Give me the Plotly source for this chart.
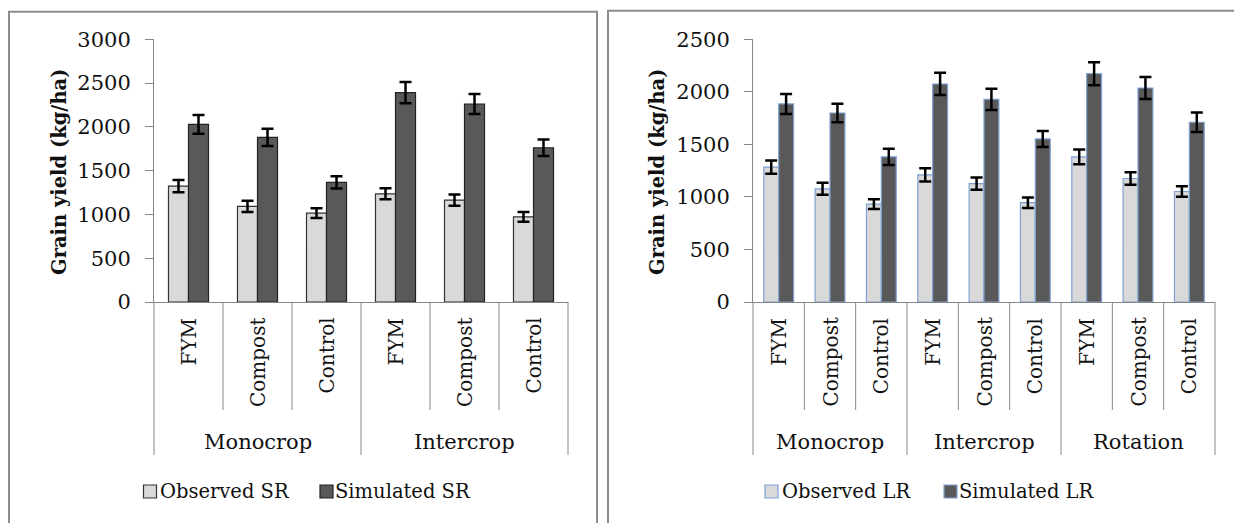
import plotly.graph_objects as go

# ---- data -------------------------------------------------------------
treatments = ["FYM", "Compost", "Control"]
systems_sr = ["Monocrop", "Intercrop"]
systems_lr = ["Monocrop", "Intercrop", "Rotation"]

# short rains (SR)
obs_sr = [1323, 1091, 1014, 1235, 1163, 972]
obs_sr_err = [69, 65, 55, 63, 63, 55]
sim_sr = [2028, 1880, 1365, 2390, 2260, 1761]
sim_sr_err = [107, 99, 70, 120, 115, 93]

# long rains (LR)
obs_lr = [1283, 1077, 931, 1210, 1127, 945, 1381, 1175, 1051]
obs_lr_err = [63, 57, 46, 63, 58, 50, 70, 59, 49]
sim_lr = [1884, 1798, 1381, 2074, 1928, 1551, 2172, 2036, 1710]
sim_lr_err = [95, 89, 77, 106, 101, 76, 109, 104, 92]

yticks_sr = [0, 500, 1000, 1500, 2000, 2500, 3000]
yticks_lr = [0, 500, 1000, 1500, 2000, 2500]

legend_sr = ["Observed SR", "Simulated SR"]
legend_lr = ["Observed LR", "Simulated LR"]
y_title = "Grain yield (kg/ha)"

# ---- styling ----------------------------------------------------------
W, H = 1234, 523
FONT = "DejaVu Serif"
TXT = "#111111"
LIGHT, DARK = "#D9D9D9", "#595959"
AXIS = "#868686"
FRAME = "#8c8c8c"
BLUE_EDGE = "#7EA1D3"


def px(x):
    return x / W


def py(y):
    return 1 - y / H


fig = go.Figure()

err_style = dict(type="data", visible=True, color="black", thickness=2.5, width=6)

panels = [
    dict(xa="x", ya="y", obs=obs_sr, obs_err=obs_sr_err, sim=sim_sr, sim_err=sim_sr_err,
         names=legend_sr, edge_obs="#333333", edge_sim="#222222"),
    dict(xa="x2", ya="y2", obs=obs_lr, obs_err=obs_lr_err, sim=sim_lr, sim_err=sim_lr_err,
         names=legend_lr, edge_obs=BLUE_EDGE, edge_sim=BLUE_EDGE),
]

for p in panels:
    xs = list(range(len(p["obs"])))
    fig.add_trace(go.Bar(
        x=xs, y=p["obs"], name=p["names"][0], xaxis=p["xa"], yaxis=p["ya"],
        marker=dict(color=LIGHT, line=dict(color=p["edge_obs"], width=1.2)),
        error_y=dict(array=p["obs_err"], **err_style), showlegend=False,
    ))
    fig.add_trace(go.Bar(
        x=xs, y=p["sim"], name=p["names"][1], xaxis=p["xa"], yaxis=p["ya"],
        marker=dict(color=DARK, line=dict(color=p["edge_sim"], width=1.2)),
        error_y=dict(array=p["sim_err"], **err_style), showlegend=False,
    ))

y_dom = [py(302), py(39.2)]
x_dom_l = [px(154), px(568)]
x_dom_r = [px(753), px(1215)]

xaxis_common = dict(showticklabels=False, ticks="", showgrid=False, zeroline=False,
                    showline=True, linecolor=AXIS, linewidth=1, fixedrange=True,
                    automargin=False)
yaxis_common = dict(showgrid=False, zeroline=False, showline=True, linecolor=AXIS,
                    linewidth=1, ticks="outside", ticklen=8, tickcolor=AXIS, tickwidth=1,
                    tickfont=dict(family=FONT, size=21, color=TXT),
                    ticklabelstandoff=10, automargin=False, fixedrange=True)

fig.update_layout(
    template="none",
    width=W, height=H, autosize=False,
    margin=dict(l=0, r=0, t=0, b=0, pad=0, autoexpand=False),
    paper_bgcolor="white", plot_bgcolor="white",
    barmode="group", bargap=0.42, bargroupgap=0,
    showlegend=False,
    xaxis=dict(domain=x_dom_l, range=[-0.5, len(obs_sr) - 0.5], anchor="y", **xaxis_common),
    yaxis=dict(domain=y_dom, range=[0, yticks_sr[-1]], tickvals=yticks_sr, anchor="x", **yaxis_common),
    xaxis2=dict(domain=x_dom_r, range=[-0.5, len(obs_lr) - 0.5], anchor="y2", **xaxis_common),
    yaxis2=dict(domain=y_dom, range=[0, yticks_lr[-1]], tickvals=yticks_lr, anchor="x2", **yaxis_common),
)

shapes = []
annotations = []

# panel frames (bottom/right edges run past the page)
shapes.append(dict(type="rect", xref="paper", yref="paper", x0=px(9), x1=px(597),
                   y0=-0.1, y1=py(11.7), line=dict(color=FRAME, width=2), layer="below"))
shapes.append(dict(type="rect", xref="paper", yref="paper", x0=px(608), x1=1.1,
                   y0=-0.1, y1=py(10.7), line=dict(color=FRAME, width=2), layer="below"))

axis_y = py(302)
inner_bottom = py(410)
group_bottom = py(455)


def add_category_axis(xname, systems):
    n = len(systems) * len(treatments)
    for k in range(n + 1):
        bottom = group_bottom if k % len(treatments) == 0 else inner_bottom
        shapes.append(dict(type="line", xref=f"{xname} domain", yref="paper",
                           x0=k / n, x1=k / n, y0=axis_y, y1=bottom,
                           line=dict(color=AXIS, width=1)))
    i = 0
    for g, system in enumerate(systems):
        for t in treatments:
            annotations.append(dict(xref=xname, yref="paper", x=i, y=py(316),
                                    text=t, textangle=-90, xanchor="center", yanchor="top",
                                    showarrow=False, font=dict(family=FONT, size=20, color=TXT)))
            i += 1
        annotations.append(dict(xref=xname, yref="paper",
                                x=g * len(treatments) + (len(treatments) - 1) / 2, y=py(442),
                                text=system, xanchor="center", yanchor="middle",
                                showarrow=False, font=dict(family=FONT, size=21, color=TXT)))


add_category_axis("x", systems_sr)
add_category_axis("x2", systems_lr)

# y-axis titles
for xc in (60, 658):
    annotations.append(dict(xref="paper", yref="paper", x=px(xc), y=py(172),
                            text=f"<b>{y_title}</b>", textangle=-90,
                            xanchor="center", yanchor="middle", showarrow=False,
                            font=dict(family=FONT, size=19.5, color=TXT)))

# legends
legend_y = 491.5


def legend_item(x_icon, x_text, fill, edge, label):
    shapes.append(dict(type="rect", xref="paper", yref="paper",
                       x0=px(x_icon), x1=px(x_icon + 13),
                       y0=py(legend_y + 6.5), y1=py(legend_y - 6.5),
                       fillcolor=fill, line=dict(color=edge, width=1.2)))
    annotations.append(dict(xref="paper", yref="paper", x=px(x_text), y=py(legend_y),
                            text=label, xanchor="left", yanchor="middle", showarrow=False,
                            font=dict(family=FONT, size=19.5, color=TXT)))


legend_item(143.5, 158, LIGHT, "#333333", legend_sr[0])
legend_item(320, 333, DARK, "#222222", legend_sr[1])
legend_item(765, 780, LIGHT, BLUE_EDGE, legend_lr[0])
legend_item(944, 957, DARK, BLUE_EDGE, legend_lr[1])

fig.update_layout(shapes=shapes, annotations=annotations)

fig.write_html("out.html")
